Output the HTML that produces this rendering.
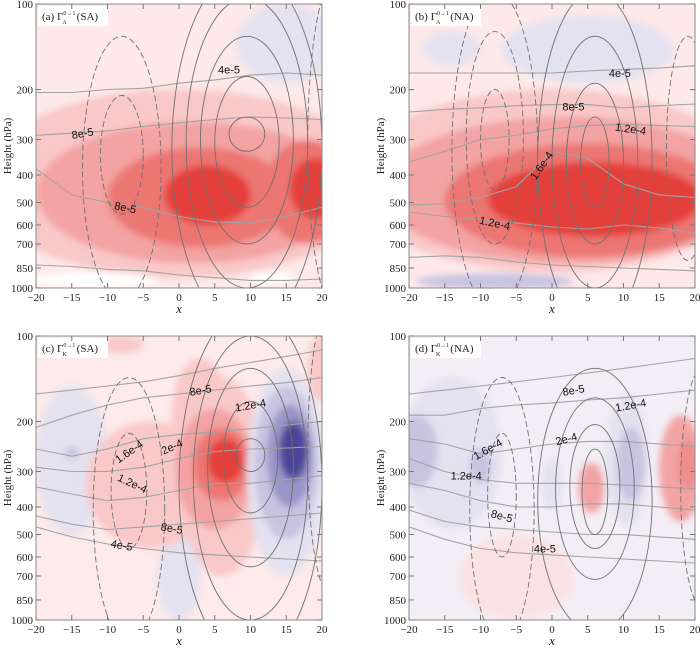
<!DOCTYPE html>
<html><head><meta charset="utf-8"><style>
html,body{margin:0;padding:0;background:#fff;}
svg{display:block;}
text{font-family:"Liberation Serif",serif;}
.cl{font-family:"Liberation Sans",sans-serif;font-size:11px;fill:#111;}
</style></head><body>
<svg id="chart" width="700" height="648" viewBox="0 0 700 648" xmlns="http://www.w3.org/2000/svg">
<defs>
<filter id="blur" x="-20%" y="-20%" width="140%" height="140%"><feGaussianBlur stdDeviation="3.5"/></filter>
</defs>
</svg>
<script>
// ---- data ----
const xTicks=[-20,-15,-10,-5,0,5,10,15,20];
const pTicks=[100,200,300,400,500,600,700,850,1000];
const panelIds=['a','b','c','d'];
const panelTitles=['(a) \u0393','(b) \u0393','(c) \u0393','(d) \u0393'];
const panelSubs=['A','A','K','K'];
const panelRegions=['(SA)','(NA)','(SA)','(NA)'];
const panelBg=['#fde9e9','#fde9e9','#fdeaea','#f3eef5'];
// shading blobs: [x, halfWidth, pTop, pBottom, level]
const blobsA=[[0,28,200,920,1],[15,7,100,190,-1],[2,22,260,820,2],[3,13,320,720,3],[18,6,300,700,3],[4,6,370,600,4],[19,3.5,350,570,4],[-12,9,880,1000,0],[13,3,880,960,0]];
const blobsB=[[0,28,200,880,1],[5,12,110,190,-1],[-14,4,125,165,-1],[2,26,250,820,2],[5,20,310,780,3],[6,15,360,660,4],[-8,11,890,1010,-2]];
const blobsC=[[-15,5,150,500,-1],[0,3,500,1000,-1],[-8,3,100,115,1],[20,2,100,170,1],[-4,9,200,560,1],[3,4,120,300,1],[6,6,140,700,1],[5,5.5,180,480,2],[6,4,210,380,3],[6.5,2.5,230,330,4],[-15,1,245,270,-2],[15,5.5,130,700,-1],[15,4.5,150,520,-2],[15.5,3.2,175,400,-3],[16,2,200,320,-4]];
const blobsD=[[-5,8,500,1000,0.5],[-14,7,140,480,-1],[-10,2.5,230,360,-1],[0,1.5,270,410,-1],[10.5,3,160,470,-1],[-19,3,190,340,-2],[-10,1.5,250,330,-2],[11,2,210,380,-2],[5.5,1.8,280,420,2],[18,3,190,450,2],[19,1.5,230,350,2.5]];
// contour ellipses: [x, halfWidth, pTop, pBottom, dashed]
const ellA=[[9.5,2.5,250,330,0],[9.5,4.5,180,520,0],[9.5,6.5,130,700,0],[9.5,8.5,95,1000,0],[9.5,10.5,75,1400,0],[-8,3,210,550,1],[-8,5.5,130,1100,1],[22,4,80,1200,1]];
const ellB=[[6,2,250,520,0],[6,4,190,700,0],[6,6,130,1000,0],[6,8,90,1400,0],[-8,2,200,450,1],[-8,4,125,700,1],[-8,6,90,1200,1],[19,3,130,800,1]];
const ellC=[[10,2,230,300,0],[10,3.8,170,420,0],[10,6,130,650,0],[10,8,100,1000,0],[10,10,80,1400,0],[-7,2.5,220,560,1],[-7,5,140,1200,1],[21,3,80,800,1]];
const ellD=[[6,1.8,250,500,0],[6,3.5,205,560,0],[6,5.5,165,720,0],[6,8,130,1100,0],[-7,2,220,600,1],[-7,4.5,140,1200,1],[21,3,130,900,1]];
// gray near-horizontal contour lines: pressure at each x tick
const linesA=[[205,205,200,198,190,185,178,175,178],[290,285,280,270,262,255,250,252,255],[380,470,500,520,560,585,590,560,520],[830,840,860,870,900,920,940,940,930]];
const linesB=[[175,175,175,175,175,172,170,168,165],[240,235,232,228,226,226,232,228,225],[360,330,300,290,275,268,265,268,270],[510,505,480,440,330,350,430,470,480],[540,560,575,590,610,620,600,615,640],[780,770,780,810,830,840,850,860,870]];
const linesC=[[160,155,150,145,138,130,124,118,112],[210,190,175,165,160,155,150,146,140],[250,265,250,230,222,218,212,206,200],[290,300,300,290,270,255,250,248,245],[340,360,380,370,350,330,330,320,310],[430,460,480,470,460,450,440,430,420],[470,510,540,560,580,590,600,610,620]];
const linesD=[[160,155,150,145,140,135,130,125,120],[190,190,180,175,172,168,165,160,155],[230,240,260,250,240,235,235,240,245],[270,300,320,330,330,330,335,340,345],[330,350,380,400,400,390,390,400,410],[410,450,470,480,490,500,500,510,520],[470,520,560,580,590,600,610,620,630]];
// contour labels: [x, p, text, angle]
const labA=[[-13.5,285,'8e-5',-10],[-7.5,520,'8e-5',12],[7,170,'4e-5',0]];
const labB=[[3,230,'8e-5',0],[9.5,175,'4e-5',0],[11,275,'1.2e-4',8],[-1.5,370,'1.6e-4',-55],[-8,590,'1.2e-4',12]];
const labC=[[3,155,'8e-5',-10],[10,175,'1.2e-4',-10],[-7,255,'1.6e-4',-35],[-1,245,'2e-4',-25],[-6.5,330,'1.2e-4',25],[-1,475,'8e-5',10],[-8,545,'4e-5',10]];
const labD=[[3,155,'8e-5',-10],[11,175,'1.2e-4',-10],[-9,250,'1.6e-4',-30],[2,230,'2e-4',-15],[-12,310,'1.2e-4',0],[-7,430,'8e-5',15],[-1,560,'4e-5',0]];
const allBlobs=[blobsA,blobsB,blobsC,blobsD];
const allEll=[ellA,ellB,ellC,ellD];
const allLines=[linesA,linesB,linesC,linesD];
const allLabs=[labA,labB,labC,labD];
// ---- layout ----
const origins=[[36,4],[409,4],[36,336],[409,336]];
const W=286,H=284;
const NS='http://www.w3.org/2000/svg';
const svg=document.getElementById('chart');
function mk(t,a,parent){const e=document.createElementNS(NS,t);for(const k in a)e.setAttribute(k,a[k]);(parent||svg).appendChild(e);return e;}
function lvlColor(l){
 const red={0:'#ffffff',0.5:'#fbe2e2',1:'#f9c8c8',1.5:'#f5b0b0',2:'#f3a3a3',2.5:'#ef8e8c',3:'#ec7672',4:'#e4403b'};
 const blue={'-1':'#e4e1f0','-2':'#c7c3e1','-3':'#9a94c8','-4':'#4c4697'};
 return l>=0?red[l]:blue[l];
}
panelIds.forEach((id,i)=>{
 const [x0,y0]=origins[i];
 const sx=x=>x0+(x+20)/40*W;
 const sy=p=>y0+Math.log10(p/100)*H;
 const g=mk('g',{});
 
 
 const cp=mk('clipPath',{id:'clip'+id},g);
 mk('rect',{x:x0,y:y0,width:W,height:H},cp);
 const bg=mk('rect',{x:x0,y:y0,width:W,height:H,fill:panelBg[i]},g);
 
 
 const sh=mk('g',{'clip-path':'url(#clip'+id+')'},g);
 const shb=mk('g',{filter:'url(#blur)'},sh);
 allBlobs[i].forEach(b=>{
  const cx=sx(b[0]),rx=b[1]/40*W,t=sy(b[2]),bt=sy(b[3]);
  const e=mk('ellipse',{cx:cx,cy:(t+bt)/2,rx:rx,ry:(bt-t)/2,fill:lvlColor(b[4])},shb);
  
  
 });
 allLines[i].forEach(ln=>{
  let d='';ln.forEach((p,k)=>{d+=(k?'L':'M')+sx(xTicks[k]).toFixed(1)+','+sy(p).toFixed(1);});
  const e=mk('path',{d:d,fill:'none',stroke:'#a3a3a3','stroke-width':1.1},sh);
  
  
 });
 allEll[i].forEach(c=>{
  const cx=sx(c[0]),rx=c[1]/40*W,t=sy(c[2]),bt=sy(c[3]);
  const a={cx:cx,cy:(t+bt)/2,rx:rx,ry:(bt-t)/2,fill:'none',stroke:'#707070','stroke-width':0.9};
  if(c[4])a['stroke-dasharray']='6,3';
  const e=mk('ellipse',a,sh);
  
  
 });
 allLabs[i].forEach(l=>{
  const tx=sx(l[0]),ty=sy(l[1]);
  const t=mk('text',{x:tx,y:ty+4,'text-anchor':'middle',class:'cl',transform:'rotate('+l[3]+' '+tx+' '+ty+')'},sh);
  t.textContent=l[2];
  
  
 });
 // title
 const tb=mk('rect',{x:x0+2,y:y0+2,width:70,height:20,fill:'#fff'},g);
 
 
 const tt=mk('text',{x:x0+6,y:y0+16,'font-size':11,fill:'#222'},g);
 
 
 tt.appendChild(document.createTextNode(panelTitles[i]));
 const s1=mk('tspan',{'font-size':6,dy:-5},tt);s1.textContent='0\u21921';
 const s2=mk('tspan',{'font-size':6,dx:-13,dy:9},tt);s2.textContent=panelSubs[i];
 const s3=mk('tspan',{dx:10,dy:-4},tt);s3.textContent=panelRegions[i];
 // frame
 const fr=mk('rect',{x:x0,y:y0,width:W,height:H,fill:'none',stroke:'#888','stroke-width':1},g);
 
 
 xTicks.forEach(x=>{
  mk('line',{x1:sx(x),x2:sx(x),y1:y0+H,y2:y0+H-5,stroke:'#777'},g);
  mk('line',{x1:sx(x),x2:sx(x),y1:y0,y2:y0+5,stroke:'#777'},g);
  const t=mk('text',{x:sx(x),y:y0+H+13,'text-anchor':'middle','font-size':11,fill:'#222'},g);
  t.textContent=(x<0?'\u2212'+(-x):''+x);
  
  
 });
 pTicks.forEach(p=>{
  mk('line',{x1:x0,x2:x0+5,y1:sy(p),y2:sy(p),stroke:'#777'},g);
  mk('line',{x1:x0+W,x2:x0+W-5,y1:sy(p),y2:sy(p),stroke:'#777'},g);
  const t=mk('text',{x:x0-3,y:sy(p)+4,'text-anchor':'end','font-size':11,fill:'#222'},g);
  t.textContent=p;
  
  
 });
 const xl=mk('text',{x:x0+W/2,y:y0+H+25,'text-anchor':'middle','font-size':13,'font-style':'italic',fill:'#222'},g);
 xl.textContent='x';
 
 
 const yl=mk('text',{x:0,y:0,'text-anchor':'middle','font-size':11,fill:'#222',transform:'translate('+(x0-25)+','+(y0+H/2)+') rotate(-90)'},g);
 yl.textContent='Height (hPa)';
 
 
});
</script>
</body></html>
